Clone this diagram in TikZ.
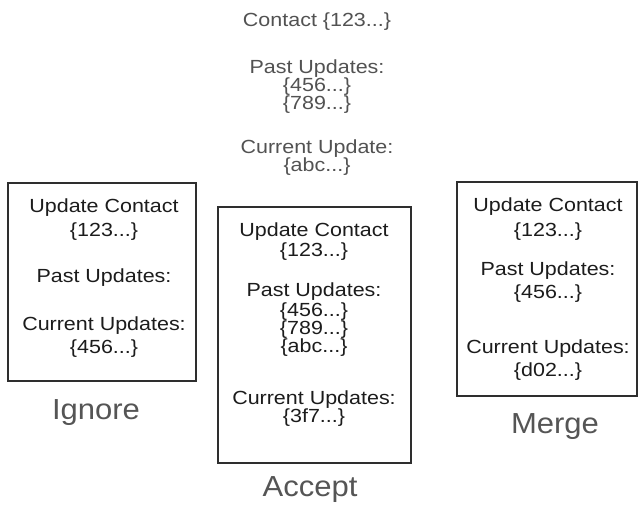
\documentclass[tikz,border=0pt]{standalone}
\usepackage{fontspec}
\setmainfont{Liberation Sans}[FakeStretch=1.07]
\newfontfamily\widefont{Liberation Sans}[FakeStretch=1.13]
\begin{document}
\begin{tikzpicture}[x=1pt,y=-1pt,
  every node/.style={inner sep=0pt},
  box/.style={draw=boxline, line width=1.8pt, rectangle},
  boxtxt/.style={font=\widefont\fontsize{19}{19}\selectfont, text=boxtext, anchor=base},
  toptxt/.style={font=\widefont\fontsize{19}{19}\selectfont, text=toptext, anchor=base},
  lbl/.style={font=\fontsize{29}{29}\selectfont, text=lbltext, anchor=base}]
\definecolor{boxline}{HTML}{2E2E2E}
\definecolor{boxtext}{HTML}{1C1C1C}
\definecolor{toptext}{HTML}{525252}
\definecolor{lbltext}{HTML}{555555}
\path[use as bounding box] (0,0) rectangle (638,505);
\fill[white] (0,0) rectangle (638,505);
% top text
\node[toptxt] (t1) at (317,27) {Contact \{123...\}};
\node[toptxt] (t2) at (317,74) {Past Updates:};
\node[toptxt] (t3) at (317,92) {\{456...\}};
\node[toptxt] (t4) at (317,110) {\{789...\}};
\node[toptxt] (t5) at (317,154) {Current Update:};
\node[toptxt] (t6) at (317,172) {\{abc...\}};
% boxes
\node[box, minimum width=188, minimum height=198] (ignorebox) at (102,282) {};
\node[box, minimum width=193, minimum height=256] (acceptbox) at (314.5,335) {};
\node[box, minimum width=180, minimum height=214] (mergebox) at (547,289) {};
% ignore box text
\node[boxtxt] (i1) at (104,213) {Update Contact};
\node[boxtxt] (i2) at (104,237) {\{123...\}};
\node[boxtxt] (i3) at (104,283) {Past Updates:};
\node[boxtxt] (i4) at (104,331) {Current Updates:};
\node[boxtxt] (i5) at (104,354) {\{456...\}};
% accept box text
\node[boxtxt] (a1) at (314,237) {Update Contact};
\node[boxtxt] (a2) at (314,257) {\{123...\}};
\node[boxtxt] (a3) at (314,297) {Past Updates:};
\node[boxtxt] (a4) at (314,317) {\{456...\}};
\node[boxtxt] (a5) at (314,335) {\{789...\}};
\node[boxtxt] (a6) at (314,353) {\{abc...\}};
\node[boxtxt] (a7) at (314,404) {Current Updates:};
\node[boxtxt] (a8) at (314,422) {\{3f7...\}};
% merge box text
\node[boxtxt] (m1) at (548,212) {Update Contact};
\node[boxtxt] (m2) at (548,237) {\{123...\}};
\node[boxtxt] (m3) at (548,276) {Past Updates:};
\node[boxtxt] (m4) at (548,299) {\{456...\}};
\node[boxtxt] (m5) at (548,354) {Current Updates:};
\node[boxtxt] (m6) at (548,377) {\{d02...\}};
% labels
\node[lbl] (ignore) at (96,419) {Ignore};
\node[lbl] (accept) at (310,496) {Accept};
\node[lbl] (merge) at (555,434) {Merge};
\end{tikzpicture}
\end{document}
